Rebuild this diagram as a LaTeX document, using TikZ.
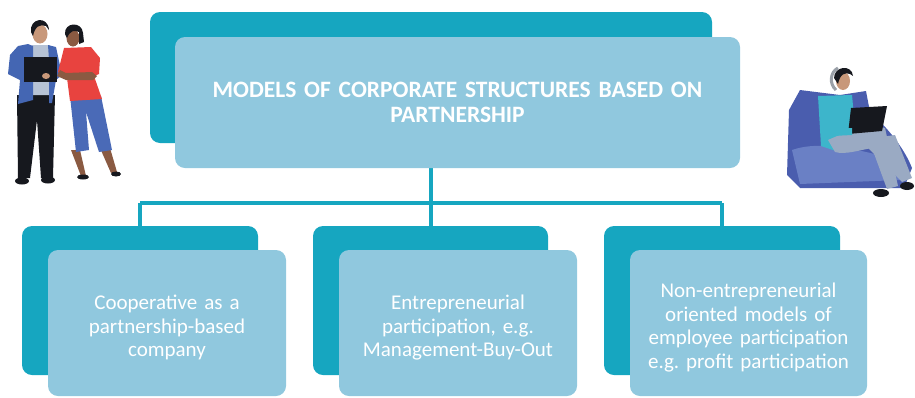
\documentclass[tikz,border=0pt]{standalone}
\usepackage{fontspec}
\setmainfont{Carlito}
\usetikzlibrary{positioning,calc}
\definecolor{tealdark}{RGB}{22,166,192}
\definecolor{teallight}{RGB}{144,200,222}
\definecolor{skin}{RGB}{200,152,122}
\definecolor{skindark}{RGB}{138,90,66}
\definecolor{jacket}{RGB}{68,102,179}
\definecolor{shirt}{RGB}{183,195,213}
\definecolor{ink}{RGB}{22,24,30}
\definecolor{redtop}{RGB}{232,67,63}
\definecolor{capri}{RGB}{74,106,183}
\definecolor{bag}{RGB}{74,93,174}
\definecolor{baglight}{RGB}{106,128,197}
\definecolor{jumper}{RGB}{61,181,203}
\definecolor{trousers}{RGB}{154,170,195}
\definecolor{phones}{RGB}{154,160,168}
\frenchspacing
\newcommand{\lowstrut}{\rule{0pt}{24pt}}

\begin{document}
\begin{tikzpicture}[x=1pt,y=-1pt,
      back/.style={rectangle,rounded corners=10pt,fill=tealdark,draw=none},
      front/.style={rectangle,rounded corners=10pt,fill=teallight,draw=none,
        text=white,align=center,font=\fontsize{21}{23.5}\selectfont},
      link/.style={draw=tealdark,line width=4pt}]
      \useasboundingbox (0,0) rectangle (915,397);

      % boxes behind
      \node[back,minimum width=562pt,minimum height=131pt] (topback) at (431,77.5) {};
      \node[back,minimum width=236pt,minimum height=149pt] (leftback) at (140,300.5) {};
      \node[back,minimum width=235pt,minimum height=149pt] (midback) at (430.5,300.5) {};
      \node[back,minimum width=236pt,minimum height=149pt] (rightback) at (722,300.5) {};

      % tree lines
      \coordinate (bar) at (431,203);
      \draw[link] (topback.center) -- (bar);
      \draw[link] (bar -| leftback.north) -- (bar -| rightback.north);
      \draw[link] (bar -| leftback.north) -- (leftback.north);
      \draw[link] (bar -| midback.north) -- (midback.north);
      \draw[link] (bar -| rightback.north) -- (rightback.north);

      % boxes in front
      \node[front,minimum width=565pt,minimum height=131pt,text width=540pt,
        font=\fontsize{23.5}{25}\selectfont\bfseries] (top) at (457.5,102.5)
        {MODELS OF CORPORATE STRUCTURES BASED ON\\PARTNERSHIP};
      \node[front,minimum width=238pt,minimum height=146pt,text width=225pt] (left) at (167,323)
        {\lowstrut Cooperative as a\\partnership-based\\company};
      \node[front,minimum width=238pt,minimum height=146pt,text width=225pt] (mid) at (458,323)
        {\lowstrut Entrepreneurial\\participation, e.g.\\Management-Buy-Out};
      \node[front,minimum width=237pt,minimum height=146pt,text width=230pt] (right) at (748.5,323)
        {\lowstrut Non-entrepreneurial\\oriented models of\\employee participation\\e.g. profit participation};

      % two people with a laptop
      \fill[ink] (17,95) -- (55,95) -- (53,178) -- (41,178) -- (37,120) -- (30,178) -- (18,178) -- cycle;
      \fill[ink] (22,181) ellipse (7pt and 3.5pt);
      \fill[ink] (48,180) ellipse (7pt and 3.5pt);
      \fill[shirt] (32,45) -- (50,45) -- (52,95) -- (30,95) -- cycle;
      \fill[jacket] (28,44) -- (33,46) -- (33,100) -- (18,104) -- (20,80) -- (8,74) -- (10,55) -- (18,46) -- cycle;
      \fill[jacket] (48,45) -- (56,47) -- (62,75) -- (56,80) -- (52,103) -- (49,103) -- (49,60) -- cycle;
      \fill[skin] (40,34) ellipse (7.5pt and 9.5pt);
      \fill[ink] (31,32) .. controls (29,18) and (48,15) .. (49,30) -- (46,26) .. controls (40,24) and (35,26) .. (33,36) -- cycle;
      \fill[skindark] (71,150) -- (80,150) -- (86,176) -- (81,176) -- cycle;
      \fill[skindark] (100,148) -- (110,148) -- (117,172) -- (111,173) -- cycle;
      \fill[ink] (83,177) ellipse (6pt and 2.5pt);
      \fill[ink] (116,174) ellipse (5pt and 2.5pt);
      \fill[capri] (70,96) -- (101,96) -- (112,150) -- (99,152) -- (86,112) -- (89,150) -- (76,152) -- cycle;
      \fill[redtop] (64,48) -- (91,47) -- (100,58) -- (99,74) -- (94,76) -- (102,99) -- (70,101) -- (67,78) -- (58,72) -- cycle;
      \fill[skindark] (60,70) -- (66,73) -- (92,72) -- (97,76) -- (93,80) -- (66,80) -- (57,76) -- cycle;
      \fill[skindark] (73,38) ellipse (6.5pt and 8.5pt);
      \fill[ink] (65,34) .. controls (64,22) and (82,21) .. (83,33) -- (84,42) -- (79,44) -- (79,32) .. controls (75,30) and (70,30) .. (67,38) -- cycle;
      \fill[ink] (24,57) rectangle (57,82);
      \fill[skin] (46,76) ellipse (4pt and 3pt);

      % man on a bean bag
      \fill[bag] (787,175) -- (789,110) -- (800,90) -- (840,95) -- (866,91) -- (870,112)
        .. controls (890,130) and (905,150) .. (912,168) -- (904,188) -- (800,188) -- cycle;
      \fill[baglight] (792,150) .. controls (820,140) and (860,150) .. (890,158) -- (900,180) -- (800,184) -- cycle;
      \fill[bag] (803,100) -- (820,98) -- (818,140) -- (805,135) -- cycle;
      \fill[jumper] (818,96) -- (852,95) -- (856,138) -- (836,151) -- (821,146) -- cycle;
      \fill[trousers] (828,140) .. controls (850,130) and (870,124) .. (885,128) -- (898,186) -- (887,189) -- (872,148)
        .. controls (860,150) and (845,155) .. (835,152) -- cycle;
      \fill[trousers] (860,140) -- (895,135) -- (912,178) -- (902,182) -- cycle;
      \fill[ink] (881,193) ellipse (8pt and 4pt);
      \fill[ink] (907,186) ellipse (7pt and 4pt);
      \fill[ink] (851,108) -- (887,106) -- (882,131) -- (848,134) -- cycle;
      \fill[jumper] (826,108) -- (836,108) -- (840,128) -- (852,128) -- (852,135) -- (832,136) -- cycle;
      \fill[skin] (843,81) ellipse (7pt and 9pt);
      \fill[ink] (834,78) .. controls (834,66) and (852,64) .. (853,76) -- (850,74) .. controls (845,72) and (840,74) .. (838,84) -- cycle;
      \draw[phones,line width=3pt] (836,90) .. controls (829,84) and (830,72) .. (838,68);
    \end{tikzpicture}
\end{document}
